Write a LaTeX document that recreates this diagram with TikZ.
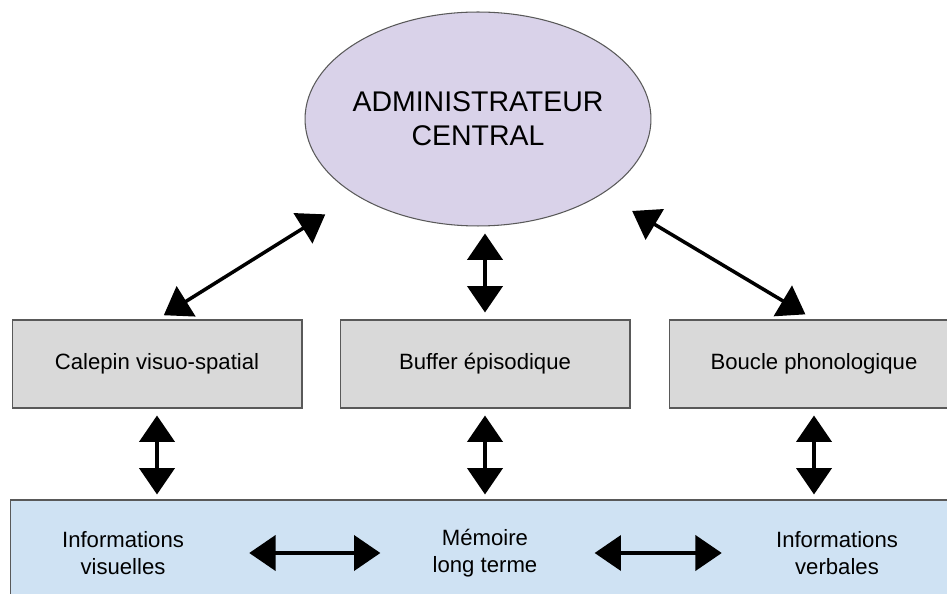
\documentclass[tikz,border=0pt]{standalone}
\usepackage{fontspec}
\setmainfont{Liberation Sans}
\usetikzlibrary{shapes.geometric,arrows.meta}
\definecolor{lavande}{HTML}{D9D2E9}
\definecolor{grisclair}{HTML}{D9D9D9}
\definecolor{bleuclair}{HTML}{CFE2F3}
\definecolor{bord}{HTML}{595959}
\tikzset{
  boite/.style={draw=bord, line width=0.6pt, fill=grisclair, minimum width=5.8cm, minimum height=1.76cm, font=\fontsize{12.6}{15.4}\selectfont},
  texte/.style={align=center, inner sep=0pt, font=\fontsize{12.6}{15.4}\selectfont},
  fleche/.style={{Triangle[length=15pt,width=20pt]}-{Triangle[length=15pt,width=20pt]}, line width=2pt},
}
\begin{document}
\begin{tikzpicture}[x=0.02cm,y=-0.02cm]
\useasboundingbox (0,0) rectangle (947,594);
\node[ellipse, draw=bord, line width=0.6pt, fill=lavande, minimum width=6.92cm, minimum height=4.28cm, inner xsep=-0.3cm, inner ysep=0pt, align=center, font=\fontsize{16.2}{19.3}\selectfont] (admin) at (478,119) {ADMINISTRATEUR\\CENTRAL};
\node[boite] (calepin) at (157,364) {Calepin visuo-spatial};
\node[boite] (buffer)  at (485,364) {Buffer épisodique};
\node[boite] (boucle)  at (814,364) {Boucle phonologique};
\node[draw=bord, line width=0.6pt, fill=bleuclair, minimum width=19cm, minimum height=2.2cm] (base) at (485,555) {};
\node[texte] (infovis)  at (123,553) {Informations\\visuelles};
\node[texte] (memoire)  at (485,553) {Mémoire\\long terme};
\node[texte] (infoverb) at (837,553) {Informations\\verbales};

\draw[fleche, shorten <=0.16cm, shorten >=0.72cm] (calepin.north) -- (admin);
\draw[fleche, shorten <=0.14cm, shorten >=0.14cm] (buffer.north) -- (buffer.north |- admin.south);
\draw[fleche, shorten <=0.2cm, shorten >=0.68cm] (boucle.north) -- (admin);
\draw[fleche, shorten <=0.14cm, shorten >=0.1cm] (calepin.south) -- (calepin.south |- base.north);
\draw[fleche, shorten <=0.14cm, shorten >=0.1cm] (buffer.south) -- (buffer.south |- base.north);
\draw[fleche, shorten <=0.14cm, shorten >=0.1cm] (boucle.south) -- (boucle.south |- base.north);
\draw[fleche, shorten <=1.3cm, shorten >=1.04cm] (infovis.east) -- (memoire.west);
\draw[fleche, shorten <=1.14cm, shorten >=1.08cm] (memoire.east) -- (infoverb.west);
\end{tikzpicture}
\end{document}
